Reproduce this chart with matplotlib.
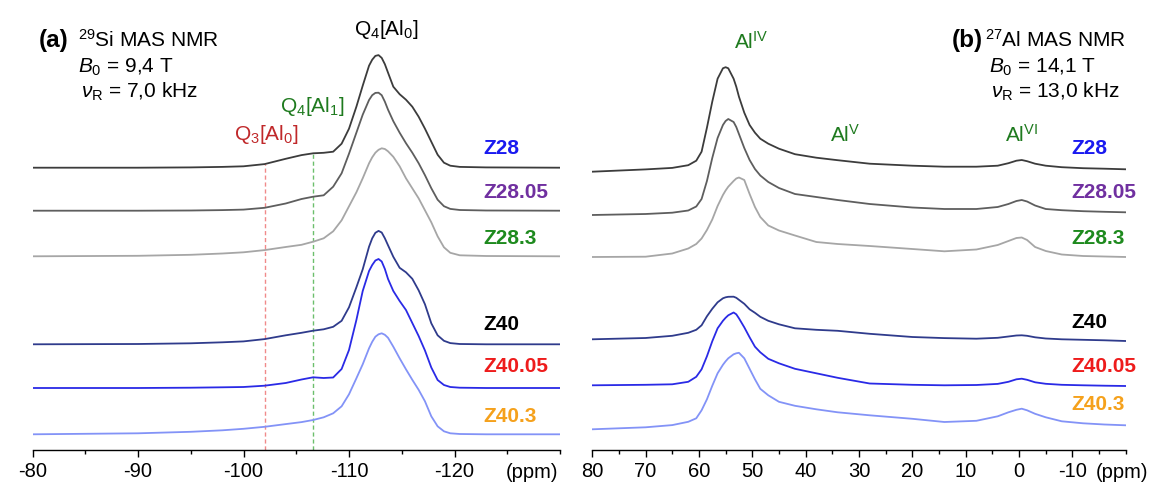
import matplotlib

matplotlib.use("agg")

import matplotlib.pyplot as plt
import numpy as np
from matplotlib.ticker import MultipleLocator

plt.rcParams["font.family"] = ["Liberation Sans", "DejaVu Sans"]
plt.rcParams["mathtext.fontset"] = "custom"
plt.rcParams["mathtext.rm"] = "Liberation Sans"
plt.rcParams["mathtext.it"] = "Liberation Sans:italic"
plt.rcParams["mathtext.bf"] = "Liberation Sans:bold"
plt.rcParams["axes.unicode_minus"] = False

# ---- data ----
samples = ["Z28", "Z28.05", "Z28.3", "Z40", "Z40.05", "Z40.3"]

# 29Si spectra (ppm, intensity)
si_ppm = [-80, -90, -95, -98, -100, -102, -104, -105.5, -106.6, -107.6, -108.5,
          -109.3, -110, -110.7, -111.3, -111.9, -112.2, -112.5, -112.8, -113.1,
          -113.4, -113.7, -114.2, -114.8, -115.4, -116, -116.6, -117.2, -117.8,
          -118.4, -119, -119.6, -120.5, -123, -130]
si_z28 = [0, 0, 0.3, 0.8, 1.4, 3.6, 8.9, 12.6, 14.4, 14.9, 16, 24, 39, 61, 82,
          102, 108, 111.8, 112.6, 109.8, 103.5, 95, 81, 73.5, 68, 61, 51, 39,
          26, 13, 5, 2, 0.8, 0.3, 0]
si_z28_05 = [0, 0, 0.2, 0.6, 1.1, 2.9, 7.2, 11.7, 14, 15.4, 24, 37.4, 57, 78, 96,
             110.7, 115.5, 117.8, 118, 115.5, 109, 101, 89.5, 78, 67.5, 58, 47.5,
             35.5, 22.5, 11, 4.5, 1.8, 0.7, 0.2, 0]
si_z28_3 = [0, 0.5, 1.5, 2.8, 4, 6.2, 9.3, 11.5, 14.6, 18, 25, 36, 50, 64, 78,
            93, 99, 103.6, 106.5, 108, 107.3, 105, 99.5, 90, 78, 68, 58, 46, 34,
            20, 9, 3.5, 1, 0.3, 0]
si_z40 = [0, 0.3, 1, 2, 2.9, 5.2, 9, 11.5, 13.6, 15, 17.5, 23.5, 37, 57, 75,
          97.6, 106, 111.5, 113.4, 111.8, 106, 99, 87.5, 76.5, 72, 65.5, 54, 40,
          21, 9, 3.5, 1.2, 0.3, 0, 0]
si_z40_05 = [0, 0, 0.3, 0.7, 1, 2.3, 5, 8.5, 10.7, 10, 10.5, 19, 38, 68, 97, 117,
             123, 127.5, 129, 126.5, 119, 109, 97, 87, 78, 65, 52, 37.5, 20.5, 8,
             3, 1, 0.3, 0, 0]
si_z40_3 = [0, 1, 2.5, 4, 5.5, 7.5, 10.2, 12.2, 14.3, 17, 21, 28, 40, 56, 70, 86,
            92.5, 97.6, 100, 101, 99.5, 96.5, 87.6, 76, 65, 54.5, 44.5, 33, 18, 8,
            3, 1, 0.3, 0, 0]

# 27Al spectra
al_ppm = [80, 70, 65, 62, 60.5, 59.5, 58.5, 57.5, 56.5, 55.5, 55, 54.5, 53.5, 53,
          52.5, 51.5, 50.5, 49.5, 48.5, 47, 45, 42, 38, 34, 28, 20, 14, 8, 4, 2,
          0.5, -0.5, -1.5, -3, -5, -8, -12, -16, -20]
al_z28 = [0, 2.3, 3.8, 6.5, 11, 20, 44, 70, 93, 103.4, 104.5, 103.4, 93, 85, 75,
          59, 46.7, 39, 33, 28, 23, 17.5, 14, 11.5, 8, 6, 5, 5, 6, 8.5, 11, 11.7,
          10.5, 8, 6, 4.5, 3.5, 3, 2.4]
al_z28_05 = [0, 1, 2.3, 4.5, 8.5, 16, 34, 57, 77, 90, 94, 96, 93, 88, 81, 67, 55,
             46, 39.5, 33, 27, 21, 18, 15, 11, 7.5, 6, 6, 8, 11, 14, 15, 13.5,
             9.5, 6, 4.8, 3.8, 3.2, 2.7]
al_z28_3 = [0, 0.3, 3.5, 8.5, 13, 18.5, 27, 37.5, 51, 62, 66.5, 70.3, 76, 78.5,
            79.5, 77, 63, 50, 40, 31.5, 26.5, 21.5, 15, 13, 11, 8, 5.7, 7.5, 12,
            16, 19, 19.5, 17, 10, 6, 2.5, 1, 0.5, 0]
al_z40 = [0, 1.3, 3.5, 6.5, 9.5, 14, 23, 30.5, 37, 41, 42, 42.5, 42.6, 41.5, 39.5,
          35.5, 30, 26.5, 22.5, 18.5, 15, 11, 9.5, 8.5, 5.5, 2.3, 1.2, 0.6, 1.5,
          2.8, 3.8, 4, 3.5, 2, 0.8, 0, -0.5, -1, -1.7]
al_z40_05 = [0, 0.5, 1, 3.5, 8.5, 16, 29, 44, 57, 64.5, 67.5, 70, 72.8, 71, 67, 58,
             48, 38.6, 33, 26.5, 22, 16.5, 12, 7.5, 1.8, 0.5, 0, 0.3, 1.4, 3.5, 6,
             6.6, 5.5, 3, 1.5, 0.5, 0, -0.4, -0.7]
al_z40_3 = [0, 2, 4.2, 7.5, 11, 19, 30, 43.5, 56, 64.5, 68, 71, 75, 76, 76.5, 71,
            60.5, 50, 40.5, 34, 27.5, 23.5, 20, 17, 14, 10.5, 7.3, 8.5, 13, 17,
            19.5, 20.6, 19, 15.5, 12, 8, 6, 4.8, 4]

si_curves = [si_z28, si_z28_05, si_z28_3, si_z40, si_z40_05, si_z40_3]
al_curves = [al_z28, al_z28_05, al_z28_3, al_z40, al_z40_05, al_z40_3]

q3_ppm = -102.0
q4_al1_ppm = -106.6

# ---- layout / style ----
si_offsets = [282.3, 239.3, 193.7, 105.7, 62, 15.7]
al_offsets = [278.3, 235, 193, 110.7, 64.7, 20.7]
si_label_y = [301, 257, 212, 125, 83, 34]
al_label_y = [302, 257, 212, 127, 84, 45]

line_colors = ["#3c3c3c", "#5e5e5e", "#a6a6a6", "#2f3b8c", "#2a2ae6", "#8393f7"]
label_colors = ["#1a1af0", "#7030a0", "#1e8a1e", "#000000", "#ee1c1c", "#f5a11c"]
green = "#1e7a1e"
red = "#c0282a"
FS = 15

fig = plt.figure(figsize=(11.52, 4.84), dpi=100)
ax1 = fig.add_axes([32.5 / 1152, 34 / 484, 527.5 / 1152, 450 / 484])
ax2 = fig.add_axes([592.2 / 1152, 34 / 484, 533.6 / 1152, 450 / 484])

for ax in (ax1, ax2):
    for s in ("left", "right", "top"):
        ax.spines[s].set_visible(False)
    ax.spines["bottom"].set_linewidth(1.0)
    ax.set_yticks([])
    ax.set_ylim(0, 450)
    ax.tick_params(axis="x", which="major", length=5, width=1.0, labelsize=14.5, pad=3.5)
    ax.tick_params(axis="x", which="minor", length=3, width=1.0)
    ax.patch.set_alpha(0)

# ---- (a) 29Si ----
ax1.set_xlim(-80, -130)
ax1.set_xticks([-80, -90, -100, -110, -120])
ax1.xaxis.set_minor_locator(MultipleLocator(5))
for curve, off, col in zip(si_curves, si_offsets, line_colors):
    ax1.plot(si_ppm, np.array(curve) + off, color=col, lw=1.3, zorder=3)

top = np.array(si_z28) + si_offsets[0]
ax1.plot([q3_ppm, q3_ppm], [0, np.interp(-q3_ppm, -np.array(si_ppm), top)],
         color="#f08a8a", lw=1.0, ls=(0, (3, 2)), zorder=2)
ax1.plot([q4_al1_ppm, q4_al1_ppm], [0, np.interp(-q4_al1_ppm, -np.array(si_ppm), top)],
         color="#6cbf6c", lw=1.0, ls=(0, (3, 2)), zorder=2)

ax1.text(-80.6, 403, "(a)", fontsize=17.5, fontweight="bold", va="baseline")
ax1.text(-84.3, 403, r"$^{29}$Si MAS NMR", fontsize=FS, va="baseline")
ax1.text(-84.3, 377, r"$B_0$ = 9,4 T", fontsize=FS, va="baseline")
ax1.text(-84.6, 352, r"$\nu_\mathrm{R}$ = 7,0 kHz", fontsize=FS, va="baseline")
ax1.text(-113.5, 415, r"Q$_4$[Al$_0$]", fontsize=FS, ha="center", va="baseline")
ax1.text(-106.5, 338, r"Q$_4$[Al$_1$]", fontsize=FS, ha="center", va="baseline", color=green)
ax1.text(-102.2, 310, r"Q$_3$[Al$_0$]", fontsize=FS, ha="center", va="baseline", color=red)
for name, y, col in zip(samples, si_label_y, label_colors):
    ax1.text(-122.7, y, name, fontsize=FS, fontweight="bold", color=col, va="center")
ax1.text(-127.3, -23, "(ppm)", fontsize=14.5, ha="center", va="center", clip_on=False)

# ---- (b) 27Al ----
ax2.set_xlim(80, -20)
ax2.set_xticks([80, 70, 60, 50, 40, 30, 20, 10, 0, -10])
ax2.xaxis.set_minor_locator(MultipleLocator(5))
for curve, off, col in zip(al_curves, al_offsets, line_colors):
    ax2.plot(al_ppm, np.array(curve) + off, color=col, lw=1.3, zorder=3)

ax2.text(12.65, 403, "(b)", fontsize=17.5, fontweight="bold", va="baseline")
ax2.text(6.3, 403, r"$^{27}$Al MAS NMR", fontsize=FS, va="baseline")
ax2.text(5.7, 377, r"$B_0$ = 14,1 T", fontsize=FS, va="baseline")
ax2.text(5.35, 352, r"$\nu_\mathrm{R}$ = 13,0 kHz", fontsize=FS, va="baseline")
ax2.text(50.1, 401, r"Al$^{\mathrm{IV}}$", fontsize=FS, ha="center", va="baseline", color=green)
ax2.text(32.5, 308, r"Al$^{\mathrm{V}}$", fontsize=FS, ha="center", va="baseline", color=green)
ax2.text(-0.4, 308, r"Al$^{\mathrm{VI}}$", fontsize=FS, ha="center", va="baseline", color=green)
for name, y, col in zip(samples, al_label_y, label_colors):
    ax2.text(-9.8, y, name, fontsize=FS, fontweight="bold", color=col, va="center")
ax2.text(-19.3, -23, "(ppm)", fontsize=14.5, ha="center", va="center", clip_on=False)

fig.savefig("out.png", dpi=100)
